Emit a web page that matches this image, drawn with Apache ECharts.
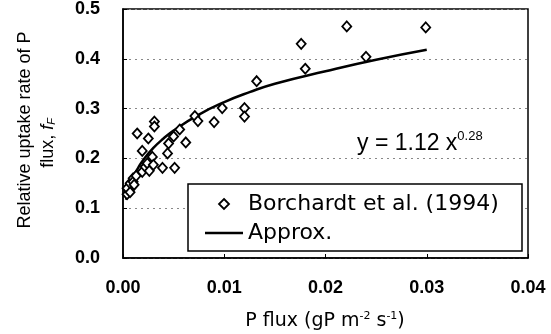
<!DOCTYPE html>
<html>
<head>
<meta charset="utf-8">
<script src="https://cdn.jsdelivr.net/npm/echarts@6/dist/echarts.min.js"></script>
<style>
  html, body { margin: 0; padding: 0; background: #fff; }
  #chart { width: 551px; height: 334px; }
</style>
</head>
<body>
<div id="chart"></div>
<script>
// Borchardt et al. (1994) observations
const obsX = [0.0004, 0.0004, 0.0007, 0.0007, 0.0010, 0.0010, 0.0011, 0.0013, 0.0014, 0.0019,
  0.0019, 0.0022, 0.0024, 0.0025, 0.0026, 0.0029, 0.0030, 0.0031, 0.0031, 0.0039,
  0.0044, 0.0045, 0.0050, 0.0051, 0.0056, 0.0062, 0.0071, 0.0074, 0.0090, 0.0098,
  0.0120, 0.0120, 0.0132, 0.0176, 0.0180, 0.0221, 0.0240, 0.0299];
const obsY = [0.128, 0.140, 0.150, 0.132, 0.160, 0.153, 0.147, 0.165, 0.250, 0.215,
  0.173, 0.183, 0.190, 0.240, 0.175, 0.203, 0.187, 0.274, 0.264, 0.181,
  0.210, 0.230, 0.244, 0.181, 0.258, 0.232, 0.285, 0.275, 0.273, 0.301,
  0.301, 0.284, 0.355, 0.430, 0.380, 0.465, 0.404, 0.463];

// Approx. curve
const fitX = [0.0003, 0.0006, 0.001, 0.0015, 0.002, 0.003, 0.004, 0.005, 0.0075, 0.01, 0.0125, 0.015, 0.02, 0.025, 0.03];
const fitY = [0.117, 0.141, 0.162, 0.181, 0.197, 0.221, 0.240, 0.256, 0.288, 0.313, 0.333, 0.350, 0.375, 0.398, 0.418];

const xTicks = { min: 0, max: 0.04, interval: 0.01 };
const yTicks = { min: 0, max: 0.5, interval: 0.1 };

const chart = echarts.init(document.getElementById('chart'));

const ARIAL = 'Arial, "Liberation Sans", sans-serif';
const GOTHIC = '"DejaVu Sans", "Noto Sans CJK JP", sans-serif';
const tickFont = { color: '#000', fontFamily: ARIAL, fontSize: 18, fontWeight: 'bold' };

chart.setOption({
  animation: false,
  backgroundColor: '#fff',
  grid: {
    left: 123, right: 23, top: 9, bottom: 76,
    show: true, borderColor: '#000', borderWidth: 1.5, backgroundColor: 'transparent'
  },
  xAxis: {
    type: 'value',
    min: xTicks.min, max: xTicks.max, interval: xTicks.interval,
    axisLine: { show: true, lineStyle: { color: '#000', width: 1.5 } },
    axisTick: { show: true, inside: true, length: 4, lineStyle: { color: '#000' } },
    axisLabel: Object.assign({ margin: 21, formatter: (v) => v.toFixed(2) }, tickFont),
    splitLine: { show: false }
  },
  yAxis: {
    type: 'value',
    min: yTicks.min, max: yTicks.max, interval: yTicks.interval,
    axisLine: { show: true, lineStyle: { color: '#000', width: 1.5 } },
    axisTick: { show: true, inside: true, length: 4, lineStyle: { color: '#000' } },
    axisLabel: Object.assign({ margin: 23, formatter: (v) => v.toFixed(1) }, tickFont),
    splitLine: { show: true, lineStyle: { color: '#888', type: [2, 4], width: 1 } }
  },
  legend: {
    orient: 'vertical',
    left: 188, top: 184,
    padding: [7, 10, 6, 17],
    itemGap: 3,
    itemWidth: 38, itemHeight: 10,
    z: 5,
    textStyle: { color: '#000', fontSize: 22, lineHeight: 26, fontFamily: GOTHIC },
    data: [
      {
        name: 'Borchardt et al. (1994)',
        icon: 'path://M0,-1 L1,0 L0,1 L-1,0 Z',
        itemStyle: { color: '#fff', borderColor: '#000', borderWidth: 1.8 }
      },
      {
        name: 'Approx.',
        icon: 'path://M0,0 H38 V2.5 H0 Z',
        itemStyle: { color: '#000', borderWidth: 0 }
      }
    ]
  },
  graphic: [
    {
      type: 'rect', z: 4,
      shape: { x: 188, y: 184, width: 334, height: 67 },
      style: { fill: '#fff', stroke: '#000', lineWidth: 1.5 }
    },
    {
      type: 'text', z: 5,
      x: 25, y: 130, rotation: Math.PI / 2,
      style: {
        text: 'Relative uptake rate of P',
        fill: '#000', font: '18px ' + ARIAL,
        align: 'center', verticalAlign: 'middle'
      }
    },
    {
      type: 'text', z: 5,
      x: 48, y: 143, rotation: Math.PI / 2,
      style: {
        text: 'flux, {i|f}{sub|F}',
        fill: '#000', font: '18px ' + ARIAL,
        align: 'center', verticalAlign: 'middle',
        rich: {
          i: { fontStyle: 'italic', fontSize: 18, fontFamily: ARIAL },
          sub: { fontStyle: 'italic', fontSize: 11, verticalAlign: 'bottom', padding: [7, 0, 0, 0], fontFamily: ARIAL }
        }
      }
    },
    {
      type: 'text', z: 5,
      x: 325, y: 321,
      style: {
        text: 'P flux (gP m{sup|-2} s{sup|-1})',
        fill: '#000', font: '19px ' + GOTHIC,
        align: 'center', verticalAlign: 'middle',
        rich: {
          sup: { fontSize: 11, padding: [0, 0, 9, 0], fontFamily: GOTHIC }
        }
      }
    },
    {
      type: 'text', z: 5,
      x: 357, y: 144,
      style: {
        text: 'y = 1.12 x{sup|0.28}',
        fill: '#000', font: '23px ' + ARIAL,
        align: 'left', verticalAlign: 'middle',
        rich: {
          sup: { fontSize: 13, padding: [0, 0, 15, 0], fontFamily: ARIAL }
        }
      }
    }
  ],
  series: [
    {
      name: 'Borchardt et al. (1994)',
      type: 'scatter',
      symbol: 'diamond',
      symbolSize: [9, 10],
      itemStyle: { color: '#fff', borderColor: '#000', borderWidth: 1.8, opacity: 1 },
      data: obsX.map((x, i) => [x, obsY[i]]),
      z: 3
    },
    {
      name: 'Approx.',
      type: 'line',
      smooth: true,
      symbol: 'none',
      lineStyle: { color: '#000', width: 2.5 },
      itemStyle: { color: '#000' },
      data: fitX.map((x, i) => [x, fitY[i]]),
      z: 2
    }
  ]
});
</script>
</body>
</html>
